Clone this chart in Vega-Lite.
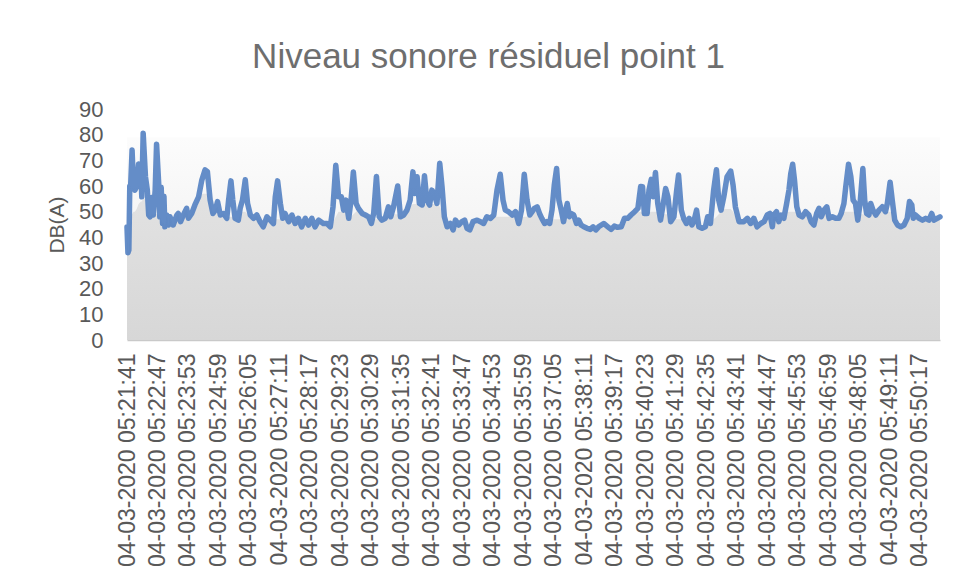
{
  "$schema": "https://vega.github.io/schema/vega-lite/v6.json",
  "width": 813,
  "height": 231,
  "autosize": {"type": "none"},
  "padding": {"left": 127, "top": 109, "right": 15, "bottom": 238},
  "background": "#ffffff",
  "title": {"text": "Niveau sonore résiduel point 1", "font": "Liberation Sans", "fontSize": 35, "fontWeight": "normal", "color": "#6e6e6e", "anchor": "middle", "frame": "group", "dx": -45, "dy": 10, "offset": 5, "baseline": "alphabetic"},
  "config": {
    "view": {"stroke": null},
    "axis": {"labelFont": "Liberation Sans", "titleFont": "Liberation Sans", "labelColor": "#595959", "titleColor": "#595959", "grid": false, "ticks": false, "tickSize": 0, "labelLimit": 0, "labelOverlap": false}
  },
  "datasets": {
    "mesures": [
{"sec":0,"db":44,"fond":44},{"sec":2,"db":34,"fond":34},{"sec":4,"db":35,"fond":35},{"sec":6,"db":60,"fond":46},{"sec":8,"db":60.5,"fond":48},{"sec":11,"db":74,"fond":49},{"sec":14,"db":60,"fond":50},{"sec":17,"db":58.4,"fond":50},{"sec":21,"db":59.7,"fond":51},{"sec":25,"db":68.6,"fond":53},{"sec":30,"db":65.5,"fond":54},{"sec":32,"db":55.8,"fond":54},{"sec":35,"db":80.6,"fond":55},{"sec":40,"db":63.6,"fond":55},{"sec":44,"db":58.4,"fond":52},{"sec":47,"db":48.7,"fond":48.7},{"sec":50,"db":48,"fond":48},{"sec":53,"db":55.5,"fond":49},{"sec":57,"db":48.7,"fond":48.7},{"sec":61,"db":58.4,"fond":49},{"sec":64,"db":76.3,"fond":49},{"sec":69,"db":59.7,"fond":48.5},{"sec":71,"db":48,"fond":48},{"sec":74,"db":59.5,"fond":47},{"sec":77,"db":45.4,"fond":45.4},{"sec":80,"db":56,"fond":45.5},{"sec":82,"db":44.1,"fond":44.1},{"sec":86,"db":48.7,"fond":48.7},{"sec":90,"db":44.8,"fond":44.8},{"sec":93,"db":48,"fond":48},{"sec":100,"db":44.8,"fond":44.8},{"sec":108,"db":48.7,"fond":48.7},{"sec":111,"db":49.3,"fond":49.3},{"sec":116,"db":46.1,"fond":46.1},{"sec":122,"db":48.7,"fond":48.7},{"sec":129,"db":51.3,"fond":51.3},{"sec":133,"db":47.4,"fond":47.4},{"sec":140,"db":49.3,"fond":49.3},{"sec":147,"db":52.6,"fond":52.6},{"sec":155,"db":55.8,"fond":55.8},{"sec":162,"db":62.3,"fond":57},{"sec":169,"db":66.3,"fond":57},{"sec":174,"db":65.6,"fond":57},{"sec":180,"db":54.5,"fond":54.5},{"sec":186,"db":49.3,"fond":49.3},{"sec":191,"db":50.6,"fond":50.6},{"sec":196,"db":53.9,"fond":52},{"sec":202,"db":48.7,"fond":48.7},{"sec":209,"db":49.3,"fond":49.3},{"sec":216,"db":47.4,"fond":47.4},{"sec":220,"db":54.5,"fond":48},{"sec":225,"db":62,"fond":48},{"sec":229,"db":54.5,"fond":48},{"sec":234,"db":47.4,"fond":47.4},{"sec":241,"db":46.7,"fond":46.7},{"sec":245,"db":51.3,"fond":49},{"sec":250,"db":54.5,"fond":50},{"sec":256,"db":62.4,"fond":50},{"sec":261,"db":53.2,"fond":49},{"sec":267,"db":48.7,"fond":48.7},{"sec":274,"db":47.4,"fond":47.4},{"sec":281,"db":48.7,"fond":48.7},{"sec":288,"db":46.1,"fond":46.1},{"sec":295,"db":44.1,"fond":44.1},{"sec":303,"db":48,"fond":48},{"sec":310,"db":46.7,"fond":46.7},{"sec":317,"db":45.4,"fond":45.4},{"sec":321,"db":55.8,"fond":47},{"sec":326,"db":62,"fond":47},{"sec":332,"db":53.2,"fond":47},{"sec":337,"db":47.4,"fond":47.4},{"sec":342,"db":49.3,"fond":49.3},{"sec":350,"db":46.1,"fond":46.1},{"sec":357,"db":48.7,"fond":48.7},{"sec":364,"db":45.4,"fond":45.4},{"sec":371,"db":47.4,"fond":47.4},{"sec":378,"db":44.1,"fond":44.1},{"sec":386,"db":47.4,"fond":47.4},{"sec":393,"db":44.8,"fond":44.8},{"sec":400,"db":47.4,"fond":47.4},{"sec":407,"db":44.1,"fond":44.1},{"sec":415,"db":46.7,"fond":46.7},{"sec":425,"db":45.4,"fond":45.4},{"sec":433,"db":45.4,"fond":45.4},{"sec":440,"db":44.1,"fond":44.1},{"sec":446,"db":51.9,"fond":46},{"sec":452,"db":68.1,"fond":48},{"sec":458,"db":55.8,"fond":50},{"sec":464,"db":55.8,"fond":50},{"sec":469,"db":50.6,"fond":50},{"sec":474,"db":54.5,"fond":50},{"sec":480,"db":47.4,"fond":47.4},{"sec":485,"db":54.5,"fond":48},{"sec":490,"db":65.5,"fond":49},{"sec":496,"db":53.2,"fond":50},{"sec":501,"db":51.3,"fond":51.3},{"sec":509,"db":49.3,"fond":49.3},{"sec":516,"db":48.7,"fond":48.7},{"sec":523,"db":48,"fond":48},{"sec":529,"db":45.4,"fond":45.4},{"sec":534,"db":49.3,"fond":47},{"sec":540,"db":63.7,"fond":47},{"sec":546,"db":48,"fond":47},{"sec":552,"db":46.7,"fond":46.7},{"sec":559,"db":47.4,"fond":47.4},{"sec":566,"db":51.9,"fond":49},{"sec":571,"db":48,"fond":48},{"sec":577,"db":51.9,"fond":49},{"sec":586,"db":60,"fond":49},{"sec":592,"db":48,"fond":48},{"sec":599,"db":48.7,"fond":48.7},{"sec":606,"db":50.6,"fond":50.6},{"sec":613,"db":54.5,"fond":52},{"sec":619,"db":65.5,"fond":53},{"sec":623,"db":57.1,"fond":53},{"sec":628,"db":63.6,"fond":53},{"sec":633,"db":53.2,"fond":53},{"sec":639,"db":52.6,"fond":52.6},{"sec":644,"db":64,"fond":53},{"sec":649,"db":54.5,"fond":53},{"sec":655,"db":52.6,"fond":52.6},{"sec":660,"db":58.4,"fond":53},{"sec":665,"db":57.1,"fond":53},{"sec":671,"db":53.2,"fond":53},{"sec":677,"db":68.9,"fond":52},{"sec":682,"db":59.7,"fond":50},{"sec":687,"db":48,"fond":48},{"sec":693,"db":44.1,"fond":44.1},{"sec":700,"db":45.4,"fond":45.4},{"sec":706,"db":42.9,"fond":42.9},{"sec":711,"db":46.7,"fond":46.7},{"sec":718,"db":44.8,"fond":44.8},{"sec":725,"db":46.1,"fond":46.1},{"sec":731,"db":46.7,"fond":46.7},{"sec":736,"db":43.5,"fond":43.5},{"sec":742,"db":42.9,"fond":42.9},{"sec":749,"db":46.1,"fond":46.1},{"sec":758,"db":46.7,"fond":46.7},{"sec":765,"db":46.1,"fond":46.1},{"sec":772,"db":45.4,"fond":45.4},{"sec":779,"db":48,"fond":48},{"sec":787,"db":47.4,"fond":47.4},{"sec":794,"db":48.7,"fond":48.7},{"sec":801,"db":58.4,"fond":48},{"sec":808,"db":64.6,"fond":48},{"sec":814,"db":54.5,"fond":48},{"sec":819,"db":50.6,"fond":48},{"sec":826,"db":50,"fond":48},{"sec":834,"db":48.7,"fond":48.7},{"sec":841,"db":50,"fond":48.5},{"sec":848,"db":45.4,"fond":45.4},{"sec":854,"db":50.6,"fond":48},{"sec":860,"db":64.6,"fond":48},{"sec":866,"db":54.5,"fond":48},{"sec":872,"db":48.7,"fond":48.7},{"sec":882,"db":51.3,"fond":50},{"sec":888,"db":51.9,"fond":50},{"sec":893,"db":49.3,"fond":49.3},{"sec":898,"db":47.4,"fond":47.4},{"sec":904,"db":45.4,"fond":45.4},{"sec":909,"db":46.1,"fond":46.1},{"sec":915,"db":45.4,"fond":45.4},{"sec":920,"db":50.6,"fond":47},{"sec":925,"db":60.4,"fond":47},{"sec":930,"db":66.8,"fond":47},{"sec":935,"db":54.5,"fond":47},{"sec":940,"db":50.6,"fond":47},{"sec":945,"db":46.1,"fond":46.1},{"sec":950,"db":50.6,"fond":47},{"sec":953,"db":53.2,"fond":47},{"sec":958,"db":48,"fond":47},{"sec":961,"db":49.3,"fond":47},{"sec":967,"db":48.7,"fond":47},{"sec":973,"db":45.4,"fond":45.4},{"sec":978,"db":46.7,"fond":46.7},{"sec":983,"db":44.8,"fond":44.8},{"sec":989,"db":44.1,"fond":44.1},{"sec":996,"db":43.5,"fond":43.5},{"sec":1003,"db":43.1,"fond":43.1},{"sec":1009,"db":44.1,"fond":44.1},{"sec":1015,"db":42.9,"fond":42.9},{"sec":1021,"db":44.1,"fond":44.1},{"sec":1032,"db":45.4,"fond":45.4},{"sec":1041,"db":44.1,"fond":44.1},{"sec":1048,"db":43.1,"fond":43.1},{"sec":1055,"db":44.4,"fond":44.4},{"sec":1062,"db":43.9,"fond":43.9},{"sec":1070,"db":44.1,"fond":44.1},{"sec":1077,"db":47.4,"fond":47.4},{"sec":1084,"db":47.4,"fond":47.4},{"sec":1091,"db":48.7,"fond":48.7},{"sec":1099,"db":50,"fond":50},{"sec":1106,"db":51.3,"fond":50},{"sec":1112,"db":59.8,"fond":50},{"sec":1116,"db":59.7,"fond":50},{"sec":1120,"db":49.3,"fond":49.3},{"sec":1126,"db":49.3,"fond":49.3},{"sec":1130,"db":58.4,"fond":50},{"sec":1135,"db":62.6,"fond":50},{"sec":1139,"db":55.8,"fond":50},{"sec":1144,"db":65.3,"fond":50},{"sec":1149,"db":53.2,"fond":50},{"sec":1155,"db":46.7,"fond":46.7},{"sec":1161,"db":53.2,"fond":49},{"sec":1166,"db":59,"fond":49},{"sec":1171,"db":55.8,"fond":49},{"sec":1177,"db":46.1,"fond":46.1},{"sec":1184,"db":48,"fond":48},{"sec":1190,"db":58.4,"fond":47},{"sec":1194,"db":64.3,"fond":47},{"sec":1200,"db":50.6,"fond":47},{"sec":1205,"db":47.4,"fond":47.4},{"sec":1211,"db":45.4,"fond":45.4},{"sec":1217,"db":47.4,"fond":47.4},{"sec":1223,"db":44.8,"fond":44.8},{"sec":1227,"db":46.1,"fond":46.1},{"sec":1233,"db":50.6,"fond":47},{"sec":1238,"db":44.1,"fond":44.1},{"sec":1245,"db":43.5,"fond":43.5},{"sec":1252,"db":44.1,"fond":44.1},{"sec":1257,"db":48,"fond":47},{"sec":1263,"db":45.4,"fond":45.4},{"sec":1270,"db":58.4,"fond":47},{"sec":1276,"db":66.3,"fond":48},{"sec":1281,"db":54.5,"fond":49},{"sec":1286,"db":50.6,"fond":50},{"sec":1292,"db":55.8,"fond":51},{"sec":1299,"db":63.6,"fond":51},{"sec":1307,"db":65.8,"fond":51},{"sec":1312,"db":60.4,"fond":50},{"sec":1317,"db":51.9,"fond":48},{"sec":1325,"db":46.1,"fond":46.1},{"sec":1335,"db":46.1,"fond":46.1},{"sec":1343,"db":47.4,"fond":47.4},{"sec":1350,"db":45.4,"fond":45.4},{"sec":1357,"db":47.4,"fond":47.4},{"sec":1364,"db":44.1,"fond":44.1},{"sec":1372,"db":45.4,"fond":45.4},{"sec":1379,"db":46.1,"fond":46.1},{"sec":1386,"db":48.7,"fond":48},{"sec":1392,"db":49.3,"fond":48},{"sec":1397,"db":44.1,"fond":44.1},{"sec":1400,"db":48.7,"fond":48},{"sec":1406,"db":50,"fond":48},{"sec":1411,"db":46.1,"fond":46.1},{"sec":1416,"db":48.7,"fond":48},{"sec":1422,"db":47.4,"fond":47.4},{"sec":1428,"db":53.2,"fond":50},{"sec":1433,"db":58.4,"fond":50},{"sec":1437,"db":64.9,"fond":50},{"sec":1441,"db":68.5,"fond":50},{"sec":1445,"db":62.3,"fond":50},{"sec":1450,"db":51.9,"fond":50},{"sec":1455,"db":48.7,"fond":48.7},{"sec":1462,"db":48,"fond":48},{"sec":1469,"db":50,"fond":50},{"sec":1476,"db":48.7,"fond":48.7},{"sec":1481,"db":46.1,"fond":46.1},{"sec":1487,"db":44.8,"fond":44.8},{"sec":1493,"db":49.3,"fond":49},{"sec":1498,"db":51.3,"fond":49},{"sec":1503,"db":48,"fond":48},{"sec":1509,"db":50.6,"fond":49},{"sec":1515,"db":51.9,"fond":49},{"sec":1520,"db":47.4,"fond":47.4},{"sec":1527,"db":48,"fond":48},{"sec":1534,"db":47.4,"fond":47.4},{"sec":1541,"db":47.4,"fond":47.4},{"sec":1546,"db":49.3,"fond":49},{"sec":1552,"db":53.2,"fond":50},{"sec":1556,"db":59.7,"fond":50},{"sec":1562,"db":68.5,"fond":50},{"sec":1567,"db":63.6,"fond":50},{"sec":1572,"db":54.5,"fond":50},{"sec":1577,"db":53.2,"fond":50},{"sec":1582,"db":46.7,"fond":46.7},{"sec":1587,"db":53.2,"fond":49},{"sec":1593,"db":66.8,"fond":49},{"sec":1597,"db":54.5,"fond":49},{"sec":1601,"db":49.3,"fond":49.3},{"sec":1606,"db":48.7,"fond":48.7},{"sec":1610,"db":53.2,"fond":50},{"sec":1615,"db":50.6,"fond":50},{"sec":1621,"db":48.7,"fond":48.7},{"sec":1628,"db":50.6,"fond":50},{"sec":1635,"db":51.9,"fond":50},{"sec":1642,"db":50,"fond":50},{"sec":1646,"db":53.2,"fond":50},{"sec":1652,"db":61.5,"fond":50},{"sec":1657,"db":53.9,"fond":50},{"sec":1662,"db":46.7,"fond":46.7},{"sec":1668,"db":44.8,"fond":44.8},{"sec":1675,"db":44.1,"fond":44.1},{"sec":1682,"db":44.8,"fond":44.8},{"sec":1689,"db":47.4,"fond":47.4},{"sec":1694,"db":54,"fond":47},{"sec":1699,"db":52.6,"fond":47},{"sec":1702,"db":47.4,"fond":47.4},{"sec":1707,"db":48.7,"fond":48},{"sec":1715,"db":47.4,"fond":47.4},{"sec":1722,"db":46.7,"fond":46.7},{"sec":1729,"db":47.4,"fond":47.4},{"sec":1736,"db":46.7,"fond":46.7},{"sec":1742,"db":49.3,"fond":48},{"sec":1747,"db":46.7,"fond":46.7},{"sec":1754,"db":47.4,"fond":47.4},{"sec":1760,"db":48,"fond":48}
    ]
  },
  "encoding": {
    "x": {"field": "sec", "type": "quantitative", "scale": {"domain": [0, 1760], "nice": false, "zero": false},
      "axis": {"title": null, "values": [0,66,132,198,264,330,396,462,528,594,660,726,792,858,924,990,1056,1122,1188,1254,1320,1386,1452,1518,1584,1650,1716],
        "labelExpr": "timeFormat(datetime(2020, 2, 4, 5, 21, 41 + datum.value), '%d-%m-%Y %H:%M:%S')",
        "labelAngle": -90, "labelFontSize": 23, "labelPadding": 13, "labelFlush": false, "labelOverlap": false, "labelBound": false, "labelLimit": 0,
        "domain": true, "domainColor": "#c9c9c9", "domainWidth": 1.5}}
  },
  "layer": [
    {
      "data": {"values": [{}]},
      "mark": {"type": "rect", "fill": {"gradient": "linear", "x1": 0, "y1": 0, "x2": 0, "y2": 1, "stops": [{"offset": 0, "color": "#ffffff"}, {"offset": 0.12, "color": "#ffffff"}, {"offset": 0.125, "color": "#fcfcfc"}, {"offset": 1, "color": "#ebebeb"}]}},
      "encoding": {"x": null}
    },
    {
      "data": {"name": "mesures"},
      "mark": {"type": "area", "fill": {"gradient": "linear", "x1": 0, "y1": 0, "x2": 0, "y2": 1, "stops": [{"offset": 0, "color": "#e2e2e2"}, {"offset": 1, "color": "#d7d7d7"}]}},
      "encoding": {
        "y": {"field": "fond", "type": "quantitative", "scale": {"domain": [0, 90], "nice": false},
          "axis": {"title": "DB(A)", "values": [0,10,20,30,40,50,60,70,80,90], "labelFontSize": 22, "labelPadding": 24, "domain": false, "labelOverlap": false,
            "titleFontSize": 21, "titleFontWeight": "normal", "titlePadding": 11}}
      }
    },
    {
      "data": {"name": "mesures"},
      "mark": {"type": "line", "color": "#4f7dc0", "strokeWidth": 5.5, "opacity": 0.88, "strokeJoin": "round", "strokeCap": "round"},
      "encoding": {
        "y": {"field": "db", "type": "quantitative", "scale": {"domain": [0, 90], "nice": false},
          "axis": {"title": "DB(A)", "values": [0,10,20,30,40,50,60,70,80,90], "labelFontSize": 22, "labelPadding": 24, "domain": false, "labelOverlap": false,
            "titleFontSize": 21, "titleFontWeight": "normal", "titlePadding": 11}}
      }
    }
  ]
}
